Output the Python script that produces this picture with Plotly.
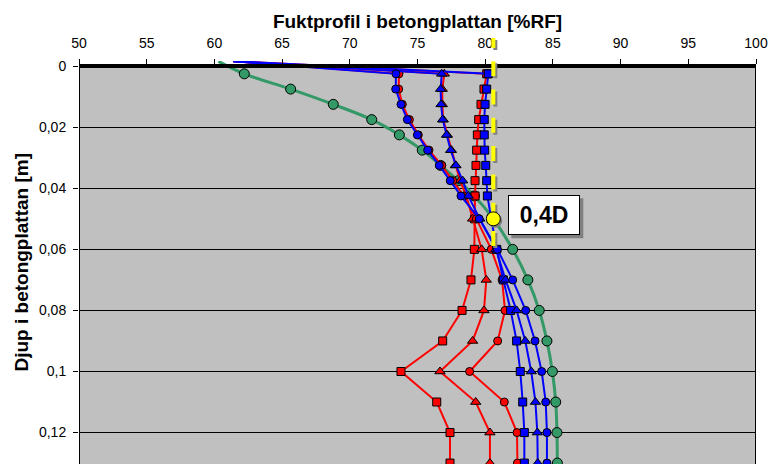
import plotly.graph_objects as go

# ---- data ----
depth = [-0.0016, 0.0025, 0.0075, 0.0125, 0.0175, 0.0225, 0.0275, 0.0325, 0.0375, 0.0425,
         0.05, 0.06, 0.07, 0.08, 0.09, 0.10, 0.11, 0.12, 0.13]

red_square = [61.4, 80.11, 79.91, 79.69, 79.52, 79.42, 79.37, 79.32, 79.25, 79.25,
              79.22, 79.2, 78.95, 78.29, 76.86, 73.78, 76.42, 77.4, 77.4]
red_triangle = [61.4, 76.98, 76.83, 76.83, 76.9, 77.2, 77.5, 77.8, 78.14, 78.6,
                79.07, 79.74, 80.08, 79.91, 79.07, 76.66, 79.3, 80.35, 80.35]
red_circle = [61.4, 73.63, 73.61, 73.88, 74.4, 75.06, 75.85, 76.79, 77.6, 78.43,
              79.35, 80.45, 81.25, 81.46, 80.92, 78.85, 81.41, 82.35, 82.38]
blue_square = [61.4, 80.23, 80.11, 79.99, 79.93, 79.93, 79.96, 80.04, 80.11, 80.16,
               80.45, 80.85, 81.34, 81.88, 82.32, 82.59, 82.77, 82.89, 82.89]
blue_triangle = [61.4, 76.79, 76.71, 76.74, 76.86, 77.15, 77.45, 77.84, 78.34, 78.75,
                 79.6, 80.8, 81.5, 82.32, 82.96, 83.4, 83.71, 83.85, 83.88]
blue_circle = [61.4, 73.41, 73.39, 73.78, 74.25, 74.99, 75.75, 76.61, 77.42, 78.21,
               79.56, 80.9, 82.03, 82.99, 83.68, 84.17, 84.47, 84.56, 84.56]
green_circle = [60.3, 62.21, 65.63, 68.78, 71.62, 73.66, 75.35, 76.71, 78.01, 79.2,
                80.6, 82.03, 83.15, 83.99, 84.56, 84.96, 85.21, 85.3, 85.33]

x_ticks = [50, 55, 60, 65, 70, 75, 80, 85, 90, 95, 100]
y_ticks = [0, 0.02, 0.04, 0.06, 0.08, 0.10, 0.12]
y_tick_text = ["0", "0,02", "0,04", "0,06", "0,08", "0,1", "0,12"]

ref_x = 80.6        # yellow dashed reference line [%RF]
mark_x = 80.6       # "0,4D" point
mark_depth = 0.05
mark_label = "0,4D"

x_range = [50, 100]
y_range = [0.1303, -0.0017]

FONT = "Liberation Sans, Arial, sans-serif"
GREEN = "#339966"
RED = "#FF0000"
BLUE = "#0000FF"

fig = go.Figure()

# marker hidden on the surface point
op = [0] + [1] * (len(depth) - 1)


def add_series(xs, color, symbol, size, width, shape="linear"):
    fig.add_trace(go.Scatter(
        x=xs, y=depth, mode="lines+markers",
        line=dict(color=color, width=width, shape=shape, smoothing=1.0),
        marker=dict(symbol=symbol, size=size, color=color, opacity=op,
                    line=dict(color="black", width=1)),
        showlegend=False, hoverinfo="skip"))


add_series(green_circle, GREEN, "circle", 10, 3, shape="spline")
add_series(red_square, RED, "square", 8, 2)
add_series(red_triangle, RED, "triangle-up", 9, 2)
add_series(red_circle, RED, "circle", 8, 2)
add_series(blue_square, BLUE, "square", 8, 2)
add_series(blue_triangle, BLUE, "triangle-up", 9, 2)
add_series(blue_circle, BLUE, "circle", 8, 2)

shapes = [
    # gray plot area (below gridlines)
    dict(type="rect", xref="x", yref="y", x0=x_range[0], x1=x_range[1], y0=0, y1=0.2,
         fillcolor="#C0C0C0", line=dict(color="black", width=2), layer="below"),
    # dashed yellow reference line with shadow
    dict(type="line", xref="x", yref="paper", xsizemode="pixel", xanchor=ref_x,
         x0=2, x1=2, y0=0.536, y1=1.052,
         line=dict(color="#808080", width=4, dash="15px,13.3px"), layer="above"),
    dict(type="line", xref="x", yref="paper", xsizemode="pixel", xanchor=ref_x,
         x0=0, x1=0, y0=0.541, y1=1.057,
         line=dict(color="#FFFF00", width=4, dash="15px,13.3px"), layer="above"),
    # yellow point with shadow
    dict(type="circle", xref="x", yref="y", xsizemode="pixel", ysizemode="pixel",
         xanchor=mark_x, yanchor=mark_depth, x0=-5, x1=9, y0=-9, y1=5,
         fillcolor="#808080", line=dict(width=0), layer="above"),
    dict(type="circle", xref="x", yref="y", xsizemode="pixel", ysizemode="pixel",
         xanchor=mark_x, yanchor=mark_depth, x0=-7, x1=7, y0=-7, y1=7,
         fillcolor="#FFFF00", line=dict(color="black", width=1), layer="above"),
    # shadow of the label box
    dict(type="rect", xref="x", yref="y", xsizemode="pixel", ysizemode="pixel",
         xanchor=mark_x, yanchor=mark_depth, x0=18, x1=90, y0=-19.5, y1=20.5,
         fillcolor="#808080", line=dict(width=0), layer="above"),
]

annotations = [
    dict(x=mark_x, y=mark_depth, xref="x", yref="y", text="<b>" + mark_label + "</b>",
         showarrow=False, xanchor="left", yanchor="middle", xshift=15, yshift=3.5,
         width=70, height=38, borderwidth=1, borderpad=0, bordercolor="black",
         bgcolor="white", font=dict(family=FONT, size=23, color="black")),
    dict(x=-0.0842, y=0.5, xref="paper", yref="paper",
         text="<b>Djup i betongplattan [m]</b>", textangle=-90, showarrow=False,
         xanchor="center", yanchor="middle", font=dict(family=FONT, size=19, color="black")),
]

x_pos = y_range[0] / (y_range[0] - y_range[1])

fig.update_layout(
    width=772, height=464,
    margin=dict(l=79, r=16, t=61, b=0),
    paper_bgcolor="white", plot_bgcolor="white",
    font=dict(family=FONT, size=14, color="black"),
    title=dict(text="<b>Fuktprofil i betongplattan [%RF]</b>", x=0.5, xref="paper",
               xanchor="center", y=1 - 21 / 464, yref="container", yanchor="middle",
               font=dict(family=FONT, size=19, color="black")),
    xaxis=dict(range=x_range, side="top", anchor="free", position=x_pos,
               tickmode="array", tickvals=x_ticks, ticks="outside", ticklen=5,
               tickcolor="black", showgrid=False, zeroline=False,
               showline=True, linecolor="black", linewidth=4, layer="above traces",
               ticklabelstandoff=6, tickfont=dict(family=FONT, size=14)),
    yaxis=dict(range=y_range, tickmode="array", tickvals=y_ticks, ticktext=y_tick_text,
               ticks="outside", ticklen=5, tickcolor="black",
               showgrid=True, gridcolor="black", gridwidth=1, zeroline=False,
               showline=False, ticklabelstandoff=4, tickfont=dict(family=FONT, size=14)),
    shapes=shapes, annotations=annotations,
)

fig.write_html("out.html")
